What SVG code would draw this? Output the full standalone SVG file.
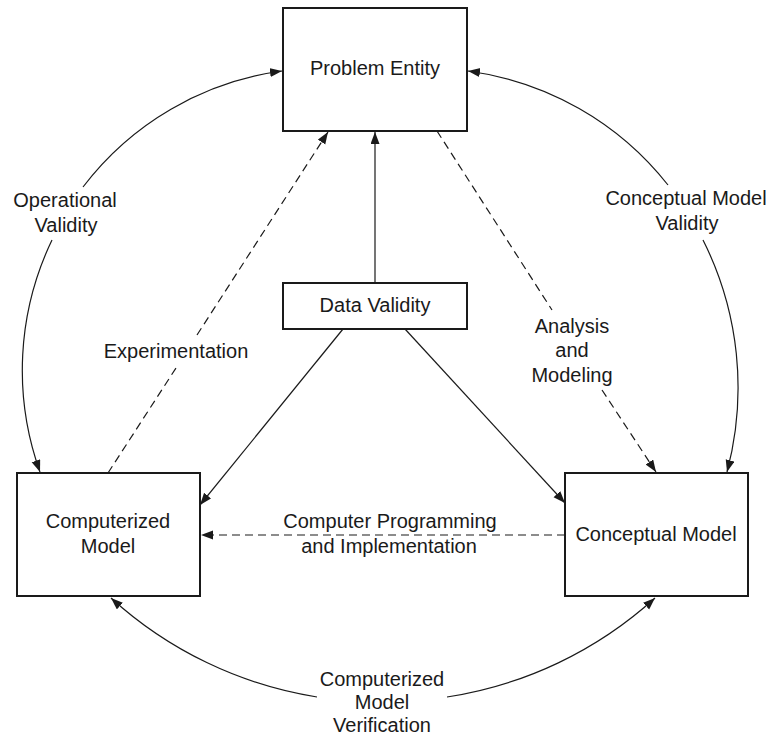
<svg xmlns="http://www.w3.org/2000/svg" width="773" height="738" viewBox="0 0 773 738">
<style>
.box{fill:#fff;stroke:#1a1a1a;stroke-width:2}
.t{font-family:"Liberation Sans",Arial,sans-serif;font-size:20px;fill:#1a1a1a;text-anchor:middle}
.c{fill:none;stroke:#1a1a1a;stroke-width:1.2}
.d{stroke-dasharray:8 5}
.a{marker-end:url(#arr)}
</style>
<defs>
<marker id="arr" markerUnits="userSpaceOnUse" markerWidth="13" markerHeight="10" refX="12" refY="4.5" orient="auto">
<path d="M0,0 L12,4.5 L0,9 z" fill="#1a1a1a"/>
</marker>
</defs>
<rect width="773" height="738" fill="#fff"/>
<g id="connectors">
<line class="c a" x1="375" y1="283" x2="375" y2="132"/>
<line class="c a" x1="343" y1="329" x2="200" y2="505"/>
<line class="c a" x1="405" y1="329" x2="565" y2="503"/>
<line class="c d a" x1="565" y1="535" x2="201" y2="535"/>
<line class="c d" x1="108" y1="473" x2="176" y2="368"/>
<line class="c d a" x1="197" y1="335" x2="328" y2="132"/>
<line class="c d" x1="437" y1="131" x2="552" y2="310"/>
<line class="c d a" x1="602" y1="390" x2="656" y2="472"/>
<path class="c a" d="M83,187 A301,301 0 0 1 282,71"/>
<path class="c a" d="M52,240 A301,301 0 0 0 40,472"/>
<path class="c a" d="M668,185 A306,306 0 0 0 468,71"/>
<path class="c a" d="M703,240 A328,328 0 0 1 727,472"/>
<path class="c a" d="M317,697 A399,399 0 0 1 111,598"/>
<path class="c a" d="M447,697 A399,399 0 0 0 655,598"/>
</g>
<g id="problem-entity">
<rect class="box" x="283" y="8" width="184" height="123"/>
<text class="t" x="375" y="75">Problem Entity</text>
</g>
<g id="data-validity">
<rect class="box" x="283" y="283" width="184" height="46"/>
<text class="t" x="375" y="312">Data Validity</text>
</g>
<g id="computerized-model">
<rect class="box" x="17" y="473" width="183" height="123"/>
<text class="t" x="108" y="528">Computerized</text>
<text class="t" x="108" y="553">Model</text>
</g>
<g id="conceptual-model">
<rect class="box" x="565" y="473" width="183" height="123"/>
<text class="t" x="656" y="541">Conceptual Model</text>
</g>
<g id="labels">
<text class="t" x="65" y="207">Operational</text>
<text class="t" x="66" y="232">Validity</text>
<text class="t" x="176" y="358">Experimentation</text>
<text class="t" x="686" y="205">Conceptual Model</text>
<text class="t" x="687" y="230">Validity</text>
<text class="t" x="572" y="333">Analysis</text>
<text class="t" x="572" y="357">and</text>
<text class="t" x="572" y="382">Modeling</text>
<text class="t" x="390" y="528">Computer Programming</text>
<text class="t" x="389" y="553">and Implementation</text>
<text class="t" x="382" y="686">Computerized</text>
<text class="t" x="382" y="709">Model</text>
<text class="t" x="382" y="732">Verification</text>
</g>
</svg>
